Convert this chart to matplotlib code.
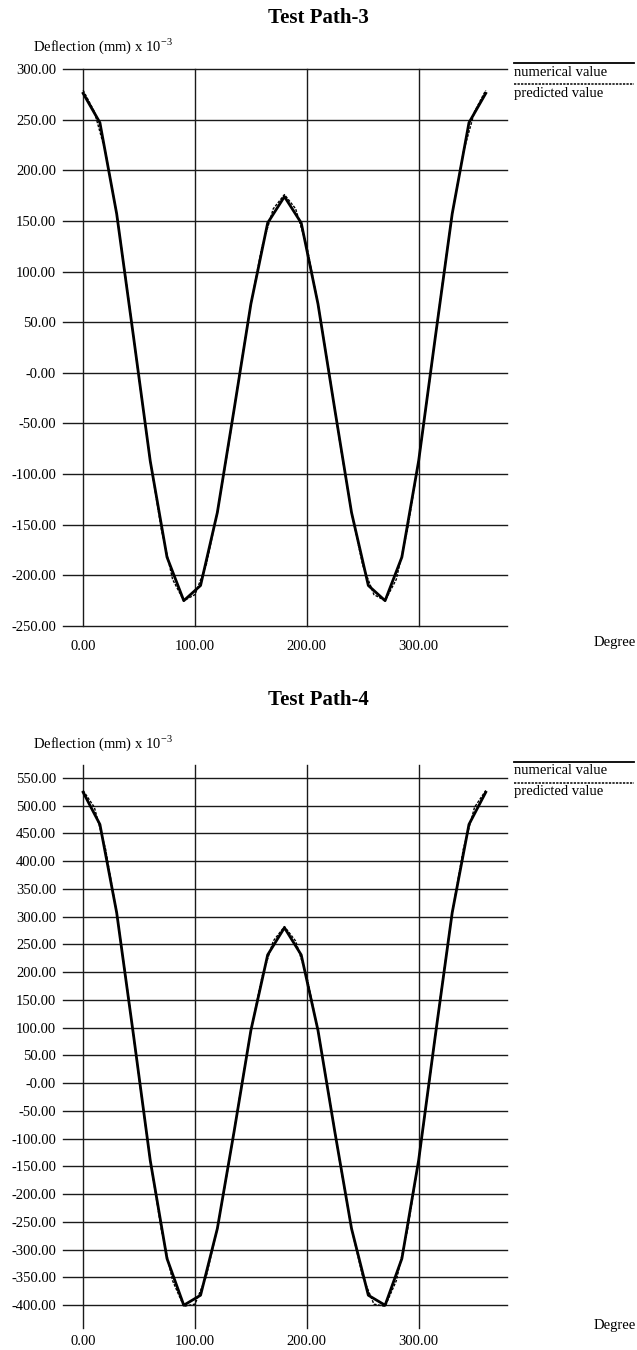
"""Deflection along test paths 3 and 4: numerical vs predicted."""

import matplotlib

matplotlib.use("Agg")
import matplotlib.pyplot as plt

plt.rcParams["font.family"] = ["Liberation Serif", "DejaVu Serif"]
plt.rcParams["mathtext.fontset"] = "custom"
plt.rcParams["mathtext.rm"] = "Liberation Serif"

# angles in degrees
deg_num = [0, 15, 30, 45, 60, 75, 90, 105, 120, 135, 150, 165, 180,
           195, 210, 225, 240, 255, 270, 285, 300, 315, 330, 345, 360]
deg_pred = [0, 10, 20, 30, 40, 50, 60, 70, 80, 90, 100, 110, 120, 130, 140, 150,
            160, 170, 180, 190, 200, 210, 220, 230, 240, 250, 260, 270, 280,
            290, 300, 310, 320, 330, 340, 350, 360]

# Test Path-3 (deflection x 1e-3 mm)
path3_num = [276, 247, 157, 36, -87, -182, -225, -210, -138, -36, 68, 148, 174,
             148, 68, -36, -138, -210, -225, -182, -87, 36, 157, 247, 276]
path3_pred = [279, 258, 218, 157, 78, -6, -87, -155, -204, -225, -219, -190, -138,
              -72, 0, 68, 125, 162, 176, 162, 125, 68, 0, -72, -138, -190, -219,
              -225, -204, -155, -87, -6, 78, 157, 218, 258, 279]

# Test Path-4
path4_num = [524, 466, 307, 87, -139, -316, -400, -382, -262, -87, 95, 231, 280,
             231, 95, -87, -262, -382, -400, -316, -139, 87, 307, 466, 524]
path4_pred = [527, 497, 422, 307, 163, 9, -139, -265, -356, -402, -398, -349, -262,
              -148, -24, 95, 192, 256, 282, 256, 192, 95, -24, -148, -262, -349,
              -398, -402, -356, -265, -139, 9, 163, 307, 422, 497, 527]

x_ticks = [0, 100, 200, 300]
path3_yticks = [300, 250, 200, 150, 100, 50, 0, -50, -100, -150, -200, -250]
path4_yticks = [550, 500, 450, 400, 350, 300, 250, 200, 150, 100, 50, 0,
                -50, -100, -150, -200, -250, -300, -350, -400]

W, H = 637, 1350
FS = 10.5
fig = plt.figure(figsize=(W / 100, H / 100), dpi=100)


def fx(px):
    return px / W


def fy(py):
    return 1 - py / H


def tick_text(v):
    return "-0.00" if v == 0 else f"{v:.2f}"


def panel(top, bottom, ylim, yticks, num, pred, title, title_y, ylabel_y,
          legend_y, degree_y, xpad):
    ax = fig.add_axes([fx(63), fy(bottom), fx(507) - fx(63), fy(top) - fy(bottom)])
    ax.set_xlim(-18, 379)
    ax.set_ylim(*ylim)
    for v in yticks:
        ax.axhline(v, color="#1a1a1a", lw=1.0, zorder=1, clip_on=False)
    for v in x_ticks:
        ax.axvline(v, color="#1a1a1a", lw=1.0, zorder=1, clip_on=False)
    ax.plot(deg_num, num, color="black", lw=2.0, zorder=3)
    ax.plot(deg_pred, pred, color="black", lw=1.0, ls=(0, (2, 1)), zorder=2)
    for s in ax.spines.values():
        s.set_visible(False)
    ax.set_xticks(x_ticks)
    ax.set_xticklabels([f"{v:.2f}" for v in x_ticks], fontsize=FS)
    ax.set_yticks(yticks)
    ax.set_yticklabels([tick_text(v) for v in yticks], fontsize=FS)
    ax.tick_params(length=0, pad=5)
    ax.tick_params(axis="x", pad=xpad)

    fig.text(fx(318), fy(title_y), title, ha="center", va="center",
             fontsize=15, fontweight="bold")
    fig.text(fx(33), fy(ylabel_y), r"Deflection (mm) x 10$^{-3}$",
             ha="left", va="center", fontsize=FS)
    fig.text(fx(636), fy(degree_y), "Degree", ha="right", va="center", fontsize=FS)

    # legend drawn at right of the plot
    x0, x1 = fx(514), fx(634)
    fig.add_artist(plt.Line2D([x0, x1], [fy(legend_y), fy(legend_y)],
                              color="black", lw=1.3))
    fig.text(x0, fy(legend_y + 9), "numerical value", ha="left", va="center",
             fontsize=FS)
    fig.add_artist(plt.Line2D([x0, x1], [fy(legend_y + 21), fy(legend_y + 21)],
                              color="black", lw=1.1, ls=(0, (1.5, 0.8))))
    fig.text(x0, fy(legend_y + 30), "predicted value", ha="left", va="center",
             fontsize=FS)


panel(69, 626, (-250, 300), path3_yticks, path3_num, path3_pred,
      "Test Path-3", 18, 46, 63, 643, 10)
panel(765, 1328, (-441, 573), path4_yticks, path4_num, path4_pred,
      "Test Path-4", 700, 743, 762, 1325, 5)

fig.savefig("out.png", dpi=100)
plt.close(fig)
